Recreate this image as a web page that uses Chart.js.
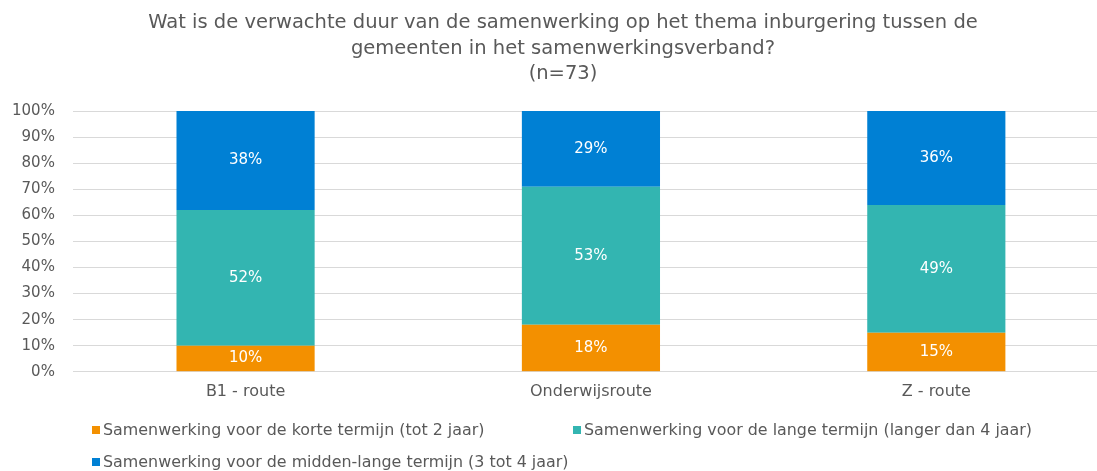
<!DOCTYPE html>
<html>
<head>
<meta charset="utf-8">
<script src="https://cdn.jsdelivr.net/npm/chart.js@4"></script>
<style>
  html, body { margin: 0; padding: 0; background: #fff; overflow: hidden; }
  #wrap { position: relative; width: 1126px; height: 471px; }
  #title {
    position: absolute; left: 0; top: 9px; width: 1126px; text-align: center;
    font-family: "DejaVu Sans", sans-serif; font-size: 19.5px; line-height: 25.5px; color: #595959;
  }
  #legend {
    position: absolute; left: 0; top: 420px; width: 1097px;
    font-family: "DejaVu Sans", sans-serif; font-size: 15.9px; color: #595959;
  }
  .item { position: absolute; white-space: nowrap; line-height: 20px; }
  .item span.box { display: inline-block; width: 8px; height: 8px; margin-right: 3px; vertical-align: 1px; }
</style>
</head>
<body>
<div id="wrap">
  <canvas id="durationChart" width="1126" height="471"></canvas>
  <div id="title"></div>
  <div id="legend"></div>
</div>
<script>
const titleLines = [
    "Wat is de verwachte duur van de samenwerking op het thema inburgering tussen de",
    "gemeenten in het samenwerkingsverband?",
    "(n=73)",
];
const categories = ["B1 - route", "Onderwijsroute", "Z - route"];
const seriesNames = [
    "Samenwerking voor de korte termijn (tot 2 jaar)",
    "Samenwerking voor de lange termijn (langer dan 4 jaar)",
    "Samenwerking voor de midden-lange termijn (3 tot 4 jaar)",
];
const shortTerm = [10, 18, 15];
const longTerm = [52, 53, 49];
const midTerm = [38, 29, 36];
const colors = ["#F39000", "#33B5B1", "#0080D4"];

const fontFamily = "'DejaVu Sans', sans-serif";
const textColor = "#595959";

// draws the percentages inside each bar segment
const valueLabels = {
    id: "valueLabels",
    afterDatasetsDraw(chart) {
        const ctx = chart.ctx;
        ctx.save();
        ctx.font = "15px " + fontFamily;
        ctx.fillStyle = "#ffffff";
        ctx.textAlign = "center";
        ctx.textBaseline = "middle";
        chart.data.datasets.forEach((ds, i) => {
            chart.getDatasetMeta(i).data.forEach((bar, j) => {
                const mid = (bar.y + bar.base) / 2;
                ctx.fillText(ds.data[j] + "%", bar.x, mid);
            });
        });
        ctx.restore();
    },
};

const ctx = document.getElementById("durationChart").getContext("2d");

new Chart(ctx, {
    type: "bar",
    data: {
        labels: categories,
        datasets: [
            { label: seriesNames[0], data: shortTerm, backgroundColor: colors[0] },
            { label: seriesNames[1], data: longTerm, backgroundColor: colors[1] },
            { label: seriesNames[2], data: midTerm, backgroundColor: colors[2] },
        ],
    },
    options: {
        responsive: false,
        animation: false,
        layout: { padding: { left: -6, right: 17, top: 111, bottom: 68 } },
        datasets: {
            bar: { categoryPercentage: 1, barPercentage: 0.4 },
        },
        plugins: {
            legend: { display: false },
            tooltip: { enabled: false },
        },
        scales: {
            x: {
                stacked: true,
                grid: { display: false },
                border: { display: false },
                ticks: { color: textColor, font: { family: fontFamily, size: 16 }, padding: 2 },
            },
            y: {
                stacked: true,
                min: 0,
                max: 100,
                ticks: {
                    stepSize: 10,
                    color: textColor,
                    font: { family: fontFamily, size: 15 },
                    padding: 18,
                    callback: (v) => v + "%",
                },
                grid: { color: "#d9d9d9", drawTicks: false },
                border: { display: false },
            },
        },
    },
    plugins: [valueLabels],
});

document.getElementById("title").innerHTML = titleLines.join("<br>");

// legend laid out like the original: two items on the first row, one below
const legendPos = [[92, 0], [573, 0], [92, 32]];
const legendEl = document.getElementById("legend");
seriesNames.forEach((name, i) => {
    const div = document.createElement("div");
    div.className = "item";
    div.style.left = legendPos[i][0] + "px";
    div.style.top = legendPos[i][1] + "px";
    div.innerHTML = '<span class="box" style="background:' + colors[i] + '"></span>' + name;
    legendEl.appendChild(div);
});
</script>
</body>
</html>
